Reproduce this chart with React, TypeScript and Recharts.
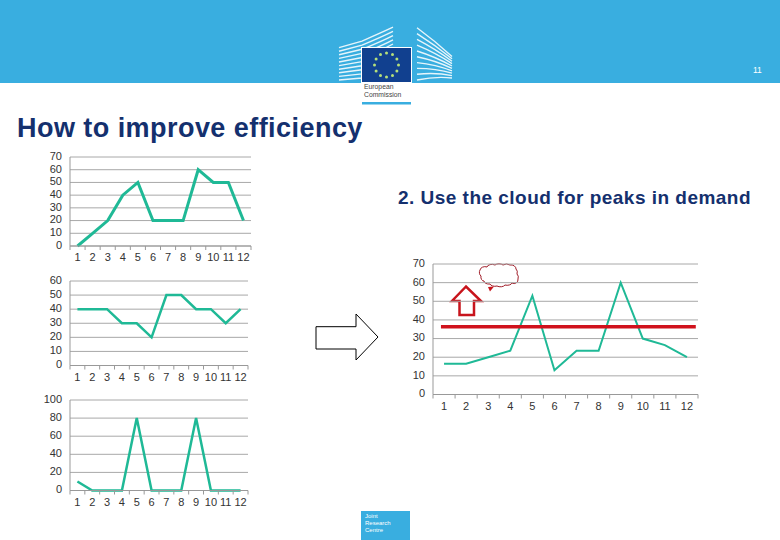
import { LineChart, Line, XAxis, YAxis, CartesianGrid, ReferenceLine } from 'recharts'

const months = [1, 2, 3, 4, 5, 6, 7, 8, 9, 10, 11, 12]
const seriesA = [0, 10, 20, 40, 50, 20, 20, 20, 60, 50, 50, 20]
const seriesB = [40, 40, 40, 30, 30, 20, 50, 50, 40, 40, 30, 40]
const seriesC = [10, 0, 0, 0, 80, 0, 0, 0, 80, 0, 0, 0]
const seriesD = [16.5, 16.5, 20, 23.5, 53, 13, 23.5, 23.5, 60, 30, 26.5, 20]
const ticksA = [0, 10, 20, 30, 40, 50, 60, 70]
const ticksB = [0, 10, 20, 30, 40, 50, 60]
const ticksC = [0, 20, 40, 60, 80, 100]
const ticksD = [0, 10, 20, 30, 40, 50, 60, 70]
const capacity = 36.3
const capacitySpan = [0.86, 12.4]

const FONT = '"Liberation Sans", Arial, sans-serif'
const GREEN = '#1fb996'
const BLUE = '#39aee0'
const NAVY = '#14306e'

const toRows = (values: number[]) => months.map((month, i) => ({ month, value: values[i] }))

const MonthTick = ({ x, y, payload, step, markLen, gap, last }: any) => (
  <g>
    <line x1={x - step / 2} x2={x - step / 2} y1={y - 8} y2={y - 8 + markLen} stroke="#999" />
    {payload.value === last && <line x1={x + step / 2} x2={x + step / 2} y1={y - 8} y2={y - 8 + markLen} stroke="#999" />}
    <text x={x} y={y + gap} textAnchor="middle" fontSize={11} fontFamily={FONT} fill="#333">{payload.value}</text>
  </g>
)

const MiniChart = ({ values, yTicks, left, right, top, bottom, strokeWidth, children }: any) => {
  const pad = 45
  const plotW = right - left
  const step = plotW / months.length
  const yMax = yTicks[yTicks.length - 1]
  return (
    <div style={{ position: 'absolute', left: left - pad, top: top - 10 }}>
      <LineChart
        width={plotW + pad + 10}
        height={bottom - top + 40}
        data={toRows(values)}
        margin={{ top: 10, right: 10, left: 0, bottom: 0 }}
      >
        <CartesianGrid horizontal vertical={false} stroke="#a8a8a8" />
        <XAxis
          dataKey="month"
          type="number"
          domain={[0.5, 12.5]}
          ticks={months}
          interval={0}
          height={30}
          axisLine={{ stroke: '#999' }}
          tickLine={false}
          tick={<MonthTick step={step} markLen={4} gap={7} last={12} />}
        />
        <YAxis
          width={pad}
          domain={[0, yMax]}
          ticks={yTicks}
          interval={0}
          axisLine={{ stroke: '#999' }}
          tickLine={false}
          tickMargin={2}
          dy={-1}
          tick={{ fontSize: 11, fontFamily: FONT, fill: '#333' }}
        />
        <Line
          dataKey="value"
          stroke={GREEN}
          strokeWidth={strokeWidth}
          dot={false}
          strokeLinejoin="miter"
          isAnimationActive={false}
        />
        {children}
      </LineChart>
    </div>
  )
}

const Backdrop = () => (
  <svg width={780} height={540} style={{ position: 'absolute', left: 0, top: 0 }}>
    <rect width={780} height={83} fill={BLUE} />
    {[0, 1, 2, 3, 4, 5, 6, 7, 8, 9].map(i => (
      <path key={i} d={`M339 ${80 - i * 3.6} L362 ${78 - i * 4.1} Q382 ${72 - i * 4.4} 393 ${65 - i * 4.2}`} fill="none" stroke="#e6f5fb" strokeWidth={1.4} />
    ))}
    {[0, 1, 2, 3, 4, 5, 6, 7, 8, 9].map(i => (
      <path key={i} d={`M417 ${80 - i * 5.8} Q436 ${76 - i * 3.8} 452 ${78 - i * 2.4}`} fill="none" stroke="#e6f5fb" strokeWidth={1.4} />
    ))}
    <rect x={361} y={47} width={51} height={36} fill="#fff" />
    <rect x={362} y={48} width={49} height={34} fill="#11408f" />
    {Array.from({ length: 12 }).map((_, i) => (
      <circle key={i} cx={386.5 + 12 * Math.cos((i * Math.PI) / 6)} cy={65 + 12 * Math.sin((i * Math.PI) / 6)} r={1.5} fill="#b6e07a" />
    ))}
    <rect x={362} y={102} width={49} height={2.5} fill={BLUE} />
    <rect x={361} y={511} width={49} height={29} fill={BLUE} />
    <path d="M316 326.7 H356 V314 L378 337 L356 360 V349 H316 Z" fill="#fff" stroke="#000" strokeWidth={1} />
    <path d="M466 286.5 L452 301 H459.5 V315 H474 V301 H481 Z" fill="#fff" stroke="#c8141c" strokeWidth={2.5} />
    <path
      d="M480 270 a5 4 0 0 1 7 -3 a5 3 0 0 1 8 -2 a5 3 0 0 1 8 0 a5 3 0 0 1 7 0 a5 4 0 0 1 6 4 a3 4 0 0 1 1 5 a3 4 0 0 1 1 5 a4 4 0 0 1 -6 4 a5 3 0 0 1 -7 2 a5 3 0 0 1 -8 1 a5 3 0 0 1 -7 -2 a5 3 0 0 1 -6 -3 a3 4 0 0 1 -3 -5 a3 4 0 0 1 -1 -6 Z"
      fill="#fff"
      stroke="#a01c28"
      strokeWidth={1}
    />
    <path d="M490 291.5 L488 287 L494 286.5 Z" fill="#c8141c" />
  </svg>
)

const Label = ({ x, y, size, color, bold, spacing, children }: any) => (
  <div style={{ position: 'absolute', left: x, top: y, fontFamily: FONT, fontSize: size, color, fontWeight: bold ? 700 : 400, letterSpacing: spacing, lineHeight: 1, whiteSpace: 'nowrap' }}>
    {children}
  </div>
)

export default function App() {
  return (
    <div style={{ position: 'absolute', left: 0, top: 0, width: 780, height: 540, background: '#fff', overflow: 'hidden' }}>
      <Backdrop />
      <Label x={753} y={66} size={8.5} color="#fff">11</Label>
      <Label x={364} y={83.5} size={6.8} color="#444">European</Label>
      <Label x={364} y={91.5} size={6.8} color="#444">Commission</Label>
      <Label x={17} y={115} size={27} color={NAVY} bold spacing={0.45}>How to improve efficiency</Label>
      <Label x={398} y={188} size={19} color={NAVY} bold spacing={0.48}>2. Use the cloud for peaks in demand</Label>
      <Label x={365} y={513} size={6} color="#fff">Joint</Label>
      <Label x={365} y={520} size={6} color="#fff">Research</Label>
      <Label x={365} y={527} size={6} color="#fff">Centre</Label>

      <MiniChart values={seriesA} yTicks={ticksA} left={69.5} right={250.5} top={156.5} bottom={245.5} strokeWidth={3} />
      <MiniChart values={seriesB} yTicks={ticksB} left={70} right={248} top={281} bottom={365.5} strokeWidth={2.5} />
      <MiniChart values={seriesC} yTicks={ticksC} left={70} right={248} top={400} bottom={490.5} strokeWidth={2.5} />
      <MiniChart values={seriesD} yTicks={ticksD} left={433} right={698} top={263.5} bottom={394} strokeWidth={2}>
        <ReferenceLine
          segment={[{ x: capacitySpan[0], y: capacity }, { x: capacitySpan[1], y: capacity }]}
          stroke="#d0121c"
          strokeWidth={3.5}
        />
      </MiniChart>
    </div>
  )
}
